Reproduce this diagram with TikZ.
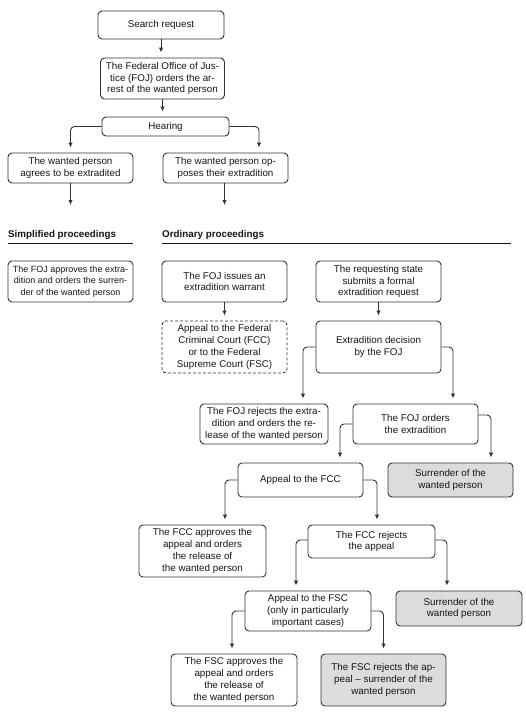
\documentclass[tikz,border=0pt]{standalone}
\usepackage{fontspec}
\setmainfont{Liberation Sans}
\usetikzlibrary{arrows.meta}
\definecolor{boxc}{HTML}{333333}
\definecolor{txt}{HTML}{151515}
\definecolor{fillc}{HTML}{DCDCDC}
\begin{document}
\begin{tikzpicture}[x=1pt,y=-1pt,
 box/.style={draw=boxc, line width=0.9pt, rounded corners=4pt, align=center, inner sep=0pt, text=txt, font=\fontsize{9.8}{11.7}\selectfont},
 greybox/.style={box, fill=fillc},
 dashbox/.style={box, dash pattern=on 3pt off 2pt},
 tipst/.tip={Latex[length=5pt,width=4.5pt]},
 arr/.style={draw=boxc, line width=0.9pt, rounded corners=4pt, -tipst, shorten >=5pt},
 arrfree/.style={draw=boxc, line width=0.9pt, -tipst},
 head/.style={font=\fontsize{9.8}{11.7}\selectfont\bfseries, anchor=base west, inner sep=0pt, text=txt},
 rule/.style={draw=txt, line width=0.9pt}
]
\useasboundingbox (0,0) rectangle (525,725);

\node[box, minimum width=126pt, minimum height=28pt] (search) at (161,25) {Search request};
\node[box, minimum width=124pt, minimum height=41pt] (foj) at (162.5,78.5) {The Federal Office of Jus-\\tice (FOJ) orders the ar-\\rest of the wanted person};
\node[box, minimum width=127pt, minimum height=19pt] (hear) at (165.5,126.5) {Hearing};
\node[box, minimum width=125pt, minimum height=30pt] (agree) at (70.5,168) {The wanted person\\agrees to be extradited};
\node[box, minimum width=125pt, minimum height=30pt] (opp) at (225.5,168) {The wanted person op-\\poses their extradition};

\coordinate (sEnd) at (70.5,205);
\coordinate (oEnd) at (224.5,205);

\node[head] (hs) at (8,237) {Simplified proceedings};
\node[head] (ho) at (162,237) {Ordinary proceedings};
\coordinate (ls1) at (8,243);
\coordinate (ls2) at (133,243);
\coordinate (lo1) at (162,243);
\coordinate (lo2) at (511,243);
\draw[rule] (ls1) -- (ls2);
\draw[rule] (lo1) -- (lo2);

\node[box, minimum width=125pt, minimum height=41pt, font=\fontsize{9}{11.2}\selectfont] (appr) at (70.5,281.5) {The FOJ approves the extra-\\dition and orders the surren-\\der of the wanted person};
\node[box, minimum width=125pt, minimum height=41pt] (warr) at (224.5,281.5) {The FOJ issues an\\extradition warrant};
\node[box, minimum width=125pt, minimum height=41pt] (req) at (378.5,281.5) {The requesting state\\submits a formal\\extradition request};
\node[dashbox, minimum width=125pt, minimum height=52pt] (appeal) at (224.5,347) {Appeal to the Federal\\Criminal Court (FCC)\\or to the Federal\\Supreme Court (FSC)};
\node[box, minimum width=125pt, minimum height=52pt] (dec) at (378.5,347) {Extradition decision\\by the FOJ};
\node[box, minimum width=128pt, minimum height=40pt] (rej) at (264,424) {The FOJ rejects the extra-\\dition and orders the re-\\lease of the wanted person};
\node[box, minimum width=125pt, minimum height=40pt] (ord) at (415.5,424) {The FOJ orders\\the extradition};
\node[box, minimum width=125pt, minimum height=34pt] (fcc) at (300.5,480) {Appeal to the FCC};
\node[greybox, minimum width=125pt, minimum height=34pt] (sur1) at (450.5,480) {Surrender of the\\wanted person};
\node[box, minimum width=127pt, minimum height=52pt] (fccapp) at (202.5,551) {The FCC approves the\\appeal and orders\\the release of\\the wanted person};
\node[box, minimum width=127pt, minimum height=33pt] (fccrej) at (371.5,541.5) {The FCC rejects\\the appeal};
\node[box, minimum width=126pt, minimum height=40pt] (fsc) at (308,611) {Appeal to the FSC\\(only in particularly\\important cases)};
\node[greybox, minimum width=126pt, minimum height=35pt] (sur2) at (459,608.5) {Surrender of the\\wanted person};
\node[box, minimum width=126pt, minimum height=52pt] (fscapp) at (234,680) {The FSC approves the\\appeal and orders\\the release of\\the wanted person};
\node[greybox, minimum width=125pt, minimum height=52pt] (fscrej) at (383.5,680) {The FSC rejects the ap-\\peal -- surrender of the\\wanted person};

% connectors
\draw[arr] (search.south) -- (search.south |- foj.north);
\draw[arr] (foj.south) -- (foj.south |- hear.north);
\draw[arr] (hear.west) -| (agree.north);
\draw[arr] (hear.east) -| ([xshift=33.5pt]opp.north);
\draw[arrfree] (agree.south) -- (sEnd);
\draw[arrfree] (oEnd |- opp.south) -- (oEnd);
\draw[arr] (warr.south) -- (appeal.north);
\draw[arr] (req.south) -- (dec.north);
\draw[arr] (dec.west) -| ([xshift=39pt]rej.north);
\draw[arr] (dec.east) -| ([xshift=37.5pt]ord.north);
\draw[arr] (ord.west) -| ([xshift=39.5pt]fcc.north);
\draw[arr] ([yshift=9pt]ord.east) -| ([xshift=40.5pt]sur1.north);
\draw[arr] (fcc.west) -| ([xshift=22.5pt]fccapp.north);
\draw[arr] (fcc.east) -| ([xshift=5.5pt]fccrej.north);
\draw[arr] ([yshift=1.5pt]fccrej.west) -| ([xshift=-12pt]fsc.north);
\draw[arr] ([yshift=1.5pt]fccrej.east) -| ([xshift=-12pt]sur2.north);
\draw[arr] (fsc.west) -| ([xshift=-2pt]fscapp.north);
\draw[arr] (fsc.east) -| (fscrej.north);
\end{tikzpicture}
\end{document}
